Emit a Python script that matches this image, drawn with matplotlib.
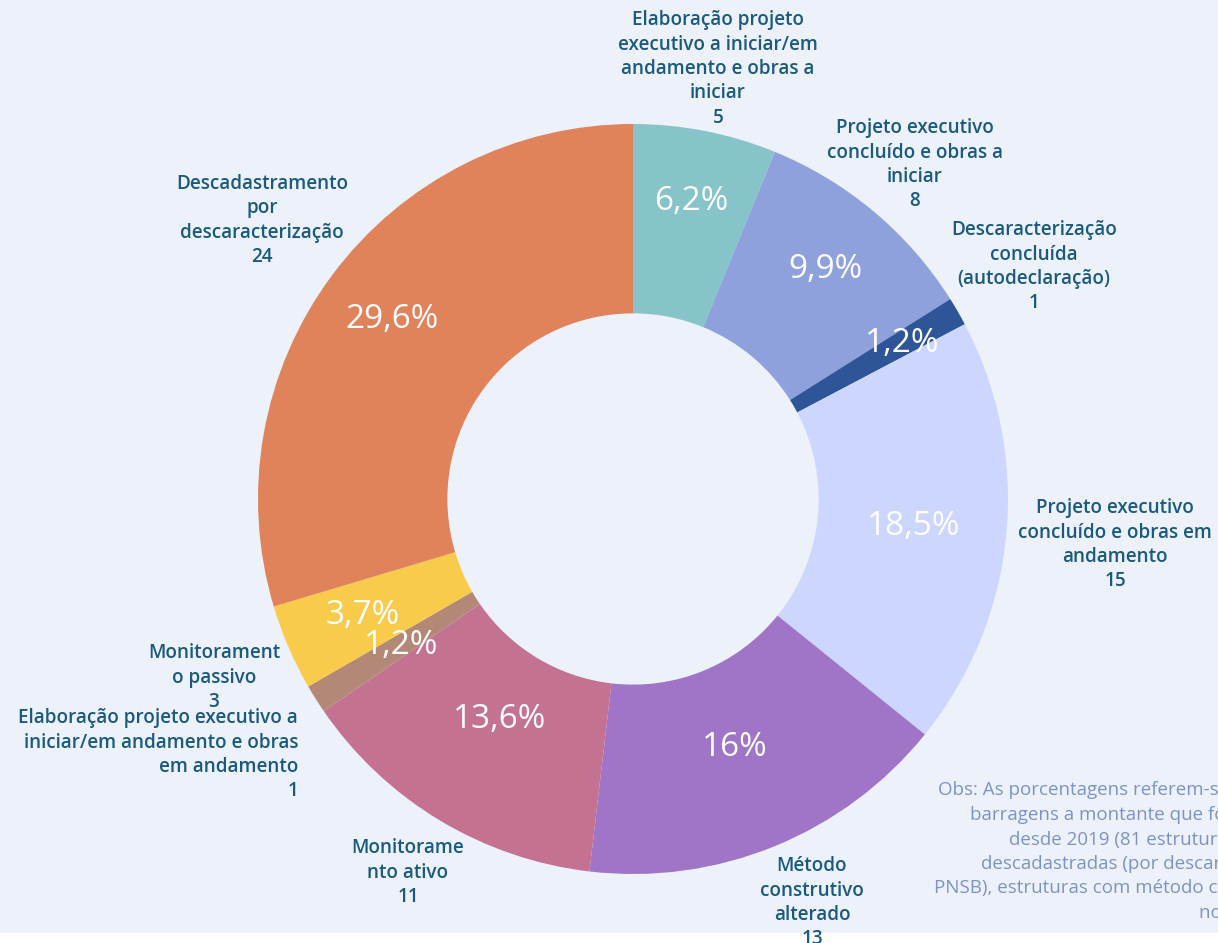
import matplotlib
matplotlib.use("Agg")
import matplotlib.pyplot as plt
from matplotlib.patches import Rectangle
import numpy as np

# data
categories = [
    "Elaboração projeto\nexecutivo a iniciar/em\nandamento e obras a\niniciar",
    "Projeto executivo\nconcluído e obras a\niniciar",
    "Descaracterização\nconcluída\n(autodeclaração)",
    "Projeto executivo\nconcluído e obras em\nandamento",
    "Método\nconstrutivo\nalterado",
    "Monitorame\nnto ativo",
    "Elaboração projeto executivo a\niniciar/em andamento e obras\nem andamento",
    "Monitorament\no passivo",
    "Descadastramento\npor\ndescaracterização",
]
counts = [5, 8, 1, 15, 13, 11, 1, 3, 24]
colors = ["#86C4C9", "#8FA1DC", "#2D5597", "#CDD6FF", "#A074C7",
          "#C47291", "#B38877", "#F8CB4B", "#E0825A"]
obs_lines = [
    "Obs: As porcentagens referem-se ao total de",
    "barragens a montante que foram identificadas",
    "desde 2019 (81 estruturas), incluindo",
    "descadastradas (por descaracterização ou fora da",
    "PNSB), estruturas com método construtivo alterado",
    "no período.",
]

W, H = 1218, 943
BG = "#EDF2FA"
LABEL_C = "#1A5A7E"
OBS_C = "#7B93C8"
FONT = "Open Sans"

def fy(y):
    # image pixel row -> data y
    return H - y

fig = plt.figure(figsize=(W / 100, H / 100), dpi=100, facecolor="white")
ax = fig.add_axes([0, 0, 1, 1])
ax.add_patch(Rectangle((0, fy(933)), W, 933, facecolor=BG, edgecolor="none", zorder=0))

cx, cy, R = 633, fy(499), 375
width = 0.505

wedges, _ = ax.pie(counts, colors=colors, startangle=90, counterclock=False,
                   center=(cx, cy), radius=R,
                   wedgeprops=dict(width=R * width, linewidth=0))
for w in wedges:
    w.set_zorder(2)

# percentage labels
total = sum(counts)
pct_r = [303, 300, 311, 282, 268, 258, 274, 294, 301]
cum = 0
for i, c in enumerate(counts):
    mid = 90 - (cum + c / 2) / total * 360
    cum += c
    p = round(c / total * 100, 1)
    txt = (f"{p:.0f}%" if abs(p - round(p)) < 0.05 else f"{p:.1f}%").replace(".", ",")
    a = np.deg2rad(mid)
    ax.text(cx + pct_r[i] * np.cos(a), cy + pct_r[i] * np.sin(a), txt,
            ha="center", va="center", color="white", fontsize=24,
            family=FONT, fontweight="normal", zorder=3)

# category labels
lab_pos = [(718, 10, "center"), (915, 118, "center"), (1034, 220, "center"),
           (1115, 498, "center"), (812, 856, "center"), (408, 838, "center"),
           (298, 708, "right"), (214, 643, "center"), (262, 174, "center")]
for i, (x, y, ha) in enumerate(lab_pos):
    ax.text(x, fy(y), f"{categories[i]}\n{counts[i]}", ha=ha, va="top",
            multialignment=ha, color=LABEL_C, fontsize=13.6, family=FONT,
            fontweight="semibold", linespacing=1.3, zorder=4)

# observation note (cut by the right edge, as in the source)
obs_x = [938, 970, 1009, 981, 934, 1199]
obs_y = [790, 815, 840, 864, 888, 913]
for t, x, y in zip(obs_lines, obs_x, obs_y):
    ax.text(x, fy(y), t, ha="left", va="center", color=OBS_C,
            fontsize=13.5, family=FONT, zorder=4)

ax.set_xlim(0, W)
ax.set_ylim(0, H)
ax.set_aspect("equal")
ax.axis("off")

fig.savefig("out.png", dpi=100, facecolor="white")
